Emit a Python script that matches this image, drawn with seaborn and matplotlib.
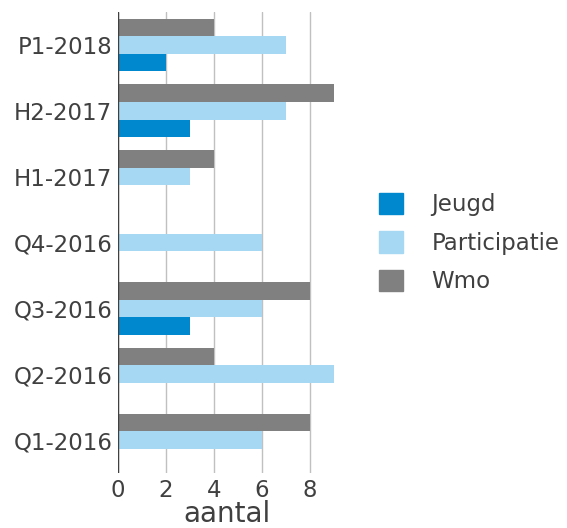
import matplotlib
matplotlib.use("Agg")
import matplotlib.pyplot as plt
import seaborn as sns
import pandas as pd
from matplotlib.patches import Patch

categories = ["P1-2018", "H2-2017", "H1-2017", "Q4-2016", "Q3-2016", "Q2-2016", "Q1-2016"]
wmo = [4, 9, 4, 0, 8, 4, 8]
participatie = [7, 7, 3, 6, 6, 9, 6]
jeugd = [2, 3, 0, 0, 3, 0, 0]
xticks = [0, 2, 4, 6, 8]

colors = {"Jeugd": "#0088CE", "Participatie": "#A6D8F4", "Wmo": "#808080"}

rows = []
for c, w, p, j in zip(categories, wmo, participatie, jeugd):
    rows.append({"cat": c, "serie": "Wmo", "val": w})
    rows.append({"cat": c, "serie": "Participatie", "val": p})
    rows.append({"cat": c, "serie": "Jeugd", "val": j})
df = pd.DataFrame(rows)

sns.set_style("white")
plt.rcParams["font.family"] = ["DejaVu Sans"]
fig = plt.figure(figsize=(5.67, 5.28), dpi=100)
ax = fig.add_axes([118 / 567, 1 - 473 / 528, (336 - 118) / 567, (473 - 12) / 528])

sns.barplot(data=df, y="cat", x="val", hue="serie", order=categories,
            hue_order=["Wmo", "Participatie", "Jeugd"], palette=colors,
            orient="h", width=0.8, saturation=1, linewidth=0, ax=ax,
            legend=False, zorder=3)

ax.set_xlim(0, 9.1)
ax.set_xticks(xticks)
ax.grid(axis="x", color="#C0C0C0", linewidth=1, zorder=0)
ax.set_axisbelow(True)
for s in ax.spines.values():
    s.set_visible(False)
ax.axvline(0, color="#404040", linewidth=1, zorder=4)
ax.tick_params(axis="both", length=0, labelsize=16.5, colors="#404040", pad=4)
ax.set_ylabel("")
ax.set_xlabel("aantal", fontsize=20, color="#404040", labelpad=-1)

handles = [Patch(color=colors[k]) for k in ["Jeugd", "Participatie", "Wmo"]]
fig.legend(handles, ["Jeugd", "Participatie", "Wmo"], loc="center left",
           bbox_to_anchor=(358 / 567, 1 - 243 / 528), frameon=False,
           fontsize=16.5, labelcolor="#404040", handlelength=1.05, handleheight=1.05,
           labelspacing=0.66, handletextpad=1.25)

fig.savefig("out.png", dpi=100)
